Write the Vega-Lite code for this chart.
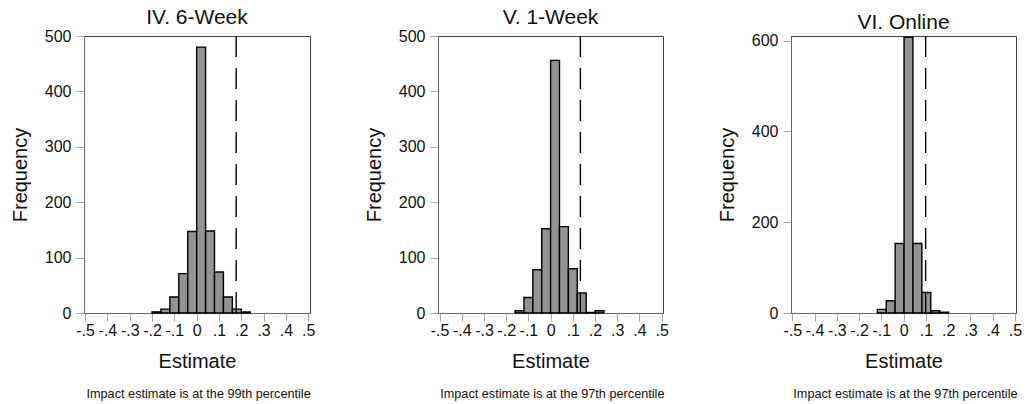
{
  "$schema": "https://vega.github.io/schema/vega-lite/v6.json",
  "padding": {"left": 9, "top": 6, "right": 5, "bottom": 5},
  "background": "white",
  "config": {
    "font": "Liberation Sans",
    "view": {"stroke": "#444444", "strokeWidth": 1},
    "axis": {
      "grid": false,
      "labelFont": "Liberation Sans",
      "labelFontSize": 16,
      "labelColor": "#111111",
      "titleFont": "Liberation Sans",
      "titleFontSize": 20,
      "titleFontWeight": "normal",
      "titleColor": "#111111",
      "tickColor": "#aaaaaa",
      "tickSize": 8,
      "domainColor": "#666666",
      "labelOverlap": false,
      "labelBound": false,
      "labelFlush": false
    },
    "axisX": {"labelOverlap": false},
    "title": {"font": "Liberation Sans", "fontWeight": "normal", "color": "#111111"}
  },
  "datasets": {
    "p1": [
      {"lo": -0.2, "hi": -0.16, "n": 2},
      {"lo": -0.16, "hi": -0.12, "n": 7},
      {"lo": -0.12, "hi": -0.08, "n": 29},
      {"lo": -0.08, "hi": -0.04, "n": 71},
      {"lo": -0.04, "hi": 0, "n": 147},
      {"lo": 0, "hi": 0.04, "n": 480},
      {"lo": 0.04, "hi": 0.08, "n": 148},
      {"lo": 0.08, "hi": 0.12, "n": 74},
      {"lo": 0.12, "hi": 0.16, "n": 29},
      {"lo": 0.16, "hi": 0.2, "n": 7},
      {"lo": 0.2, "hi": 0.24, "n": 2}
    ],
    "p2": [
      {"lo": -0.16, "hi": -0.12, "n": 4},
      {"lo": -0.12, "hi": -0.08, "n": 28},
      {"lo": -0.08, "hi": -0.04, "n": 78},
      {"lo": -0.04, "hi": 0, "n": 152},
      {"lo": 0, "hi": 0.04, "n": 456},
      {"lo": 0.04, "hi": 0.08, "n": 156},
      {"lo": 0.08, "hi": 0.12, "n": 80},
      {"lo": 0.12, "hi": 0.16, "n": 36},
      {"lo": 0.16, "hi": 0.2, "n": 1},
      {"lo": 0.2, "hi": 0.24, "n": 4}
    ],
    "p3": [
      {"lo": -0.118, "hi": -0.078, "n": 8},
      {"lo": -0.078, "hi": -0.038, "n": 27},
      {"lo": -0.038, "hi": 0.002, "n": 153},
      {"lo": 0.002, "hi": 0.042, "n": 607},
      {"lo": 0.042, "hi": 0.082, "n": 153},
      {"lo": 0.082, "hi": 0.122, "n": 45},
      {"lo": 0.122, "hi": 0.162, "n": 5},
      {"lo": 0.162, "hi": 0.202, "n": 2}
    ]
  },
  "hconcat": [
    {
      "title": {"text": "Impact estimate is at the 99th percentile", "orient": "bottom", "anchor": "middle", "fontSize": 12.7, "offset": 16, "dx": 36},
      "vconcat": [
        {
          "title": {"text": "IV. 6-Week", "fontSize": 21, "offset": 0, "frame": "group", "anchor": "middle"},
          "width": 226,
          "height": 277,
          "encoding": {
            "x": {"field": "lo", "type": "quantitative", "scale": {"domain": [-0.505, 0.508], "nice": false, "zero": false},
              "axis": {"title": "Estimate", "values": [-0.5, -0.4, -0.3, -0.2, -0.1, 0, 0.1, 0.2, 0.3, 0.4, 0.5], "labelOverlap": false, "labelPadding": 1, "titlePadding": 13,
                "labelExpr": "datum.value == 0 ? '0' : (datum.value < 0 ? '-' : '') + '.' + round(abs(datum.value) * 10)"}}
          },
          "layer": [
            {
              "data": {"name": "p1"},
              "mark": {"type": "rect", "fill": "#939393", "stroke": "#000000", "strokeWidth": 1.4},
              "encoding": {
                "x2": {"field": "hi"},
                "y": {"field": "n", "type": "quantitative", "scale": {"domain": [0, 500], "nice": false},
                  "axis": {"title": "Frequency", "values": [0, 100, 200, 300, 400, 500], "labelOverlap": false, "labelPadding": 5, "titlePadding": 14}},
                "y2": {"datum": 0}
              }
            },
            {
              "data": {"values": [{"lo": 0.177}]},
              "mark": {"type": "rule", "stroke": "#000000", "strokeWidth": 1.4, "strokeDash": [21, 11]},
              "encoding": {}
            }
          ]
        }
      ]
    },
    {
      "title": {"text": "Impact estimate is at the 97th percentile", "orient": "bottom", "anchor": "middle", "fontSize": 12.7, "offset": 16, "dx": 36},
      "vconcat": [
        {
          "title": {"text": "V. 1-Week", "fontSize": 21, "offset": 0, "frame": "group", "anchor": "middle"},
          "width": 225,
          "height": 277,
          "encoding": {
            "x": {"field": "lo", "type": "quantitative", "scale": {"domain": [-0.507, 0.506], "nice": false, "zero": false},
              "axis": {"title": "Estimate", "values": [-0.5, -0.4, -0.3, -0.2, -0.1, 0, 0.1, 0.2, 0.3, 0.4, 0.5], "labelOverlap": false, "labelPadding": 1, "titlePadding": 13,
                "labelExpr": "datum.value == 0 ? '0' : (datum.value < 0 ? '-' : '') + '.' + round(abs(datum.value) * 10)"}}
          },
          "layer": [
            {
              "data": {"name": "p2"},
              "mark": {"type": "rect", "fill": "#939393", "stroke": "#000000", "strokeWidth": 1.4},
              "encoding": {
                "x2": {"field": "hi"},
                "y": {"field": "n", "type": "quantitative", "scale": {"domain": [0, 500], "nice": false},
                  "axis": {"title": "Frequency", "values": [0, 100, 200, 300, 400, 500], "labelOverlap": false, "labelPadding": 5, "titlePadding": 14}},
                "y2": {"datum": 0}
              }
            },
            {
              "data": {"values": [{"lo": 0.134}]},
              "mark": {"type": "rule", "stroke": "#000000", "strokeWidth": 1.4, "strokeDash": [21, 11]},
              "encoding": {}
            }
          ]
        }
      ]
    },
    {
      "title": {"text": "Impact estimate is at the 97th percentile", "orient": "bottom", "anchor": "middle", "fontSize": 12.7, "offset": 16, "dx": 36},
      "vconcat": [
        {
          "title": {"text": "VI. Online", "fontSize": 21, "offset": 0, "frame": "group", "anchor": "middle"},
          "width": 225,
          "height": 277,
          "encoding": {
            "x": {"field": "lo", "type": "quantitative", "scale": {"domain": [-0.506, 0.505], "nice": false, "zero": false},
              "axis": {"title": "Estimate", "values": [-0.5, -0.4, -0.3, -0.2, -0.1, 0, 0.1, 0.2, 0.3, 0.4, 0.5], "labelOverlap": false, "labelPadding": 1, "titlePadding": 13,
                "labelExpr": "datum.value == 0 ? '0' : (datum.value < 0 ? '-' : '') + '.' + round(abs(datum.value) * 10)"}}
          },
          "layer": [
            {
              "data": {"name": "p3"},
              "mark": {"type": "rect", "fill": "#939393", "stroke": "#000000", "strokeWidth": 1.4},
              "encoding": {
                "x2": {"field": "hi"},
                "y": {"field": "n", "type": "quantitative", "scale": {"domain": [0, 610], "nice": false},
                  "axis": {"title": "Frequency", "values": [0, 200, 400, 600], "labelOverlap": false, "labelPadding": 5, "titlePadding": 14}},
                "y2": {"datum": 0}
              }
            },
            {
              "data": {"values": [{"lo": 0.099}]},
              "mark": {"type": "rule", "stroke": "#000000", "strokeWidth": 1.4, "strokeDash": [21, 11]},
              "encoding": {}
            }
          ]
        }
      ]
    }
  ],
  "spacing": 47
}
